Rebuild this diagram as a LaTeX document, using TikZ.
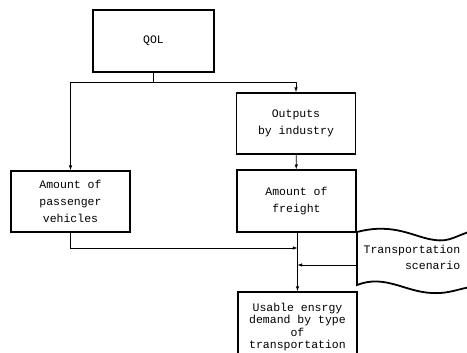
\documentclass[tikz,border=0pt]{standalone}
\usepackage{fontspec}
\setmonofont{Liberation Mono}
\usetikzlibrary{arrows}
\usetikzlibrary{math}

\tikzset{
  box/.style={draw, line width=1.8pt, align=center, inner sep=2pt,
              font=\ttfamily\fontsize{11.5}{17}\selectfont},
  link/.style={line width=0.6pt},
}

\begin{document}
\begin{tikzpicture}[x=1pt,y=-1pt]
\tikzmath{
\W=119;
\H=62;
}
\useasboundingbox (0,0) rectangle (467,353);

\node[box, minimum width=121pt, minimum height=62pt] (qol) at (153.5,41) {QOL};
\node[box, minimum width=\W pt, minimum height=61pt] (outputs) at (296,123.5) {Outputs\\by industry};
\node[box, minimum width=\W pt, minimum height=\H pt] (freight) at (296.5,201) {Amount of\\freight};
\node[box, minimum width=\W pt, minimum height=61pt] (passenger) at (70.5,201.5) {Amount of\\passenger\\ vehicles};
\node[box, anchor=north, minimum width=\W pt, minimum height=70pt, inner ysep=5pt,
      font=\ttfamily\fontsize{11.5}{12.5}\selectfont] (usable) at (297.5,291)
      {Usable ensrgy\\demand by type\\of\\transportation};

% transportation scenario
\draw[line width=1.8pt] (472,231) .. controls (455,236) and (450,242) .. (435,240)
  .. controls (415,238) and (395,222) .. (357,232) -- (357,285)
  .. controls (385,274) and (405,292) .. (432,293)
  .. controls (450,294) and (460,288) .. (472,287);
\node[font=\ttfamily\fontsize{11.5}{16}\selectfont, align=right] (scen) at (412,257)
  {Transportation\\scenario};
\coordinate (scen-in) at (357,265);

% connectors
\draw[link] (qol.south) -- ++(0,9) coordinate (split);
\draw[link,-latex] (split) -| (passenger.north);
\draw[link,-latex] (split) -| (outputs.north);
\draw[link,-latex] (outputs) -- (freight);
\draw[link,-latex] (freight.south -| usable.north) -- (usable.north);
\coordinate (join) at (usable.north |- 0,248);
\coordinate (merge) at (usable.north |- scen-in);
\draw[link,-latex] (passenger.south) |- (join);
\draw[link,-latex] (scen-in) -- (merge);

\end{tikzpicture}
\end{document}
